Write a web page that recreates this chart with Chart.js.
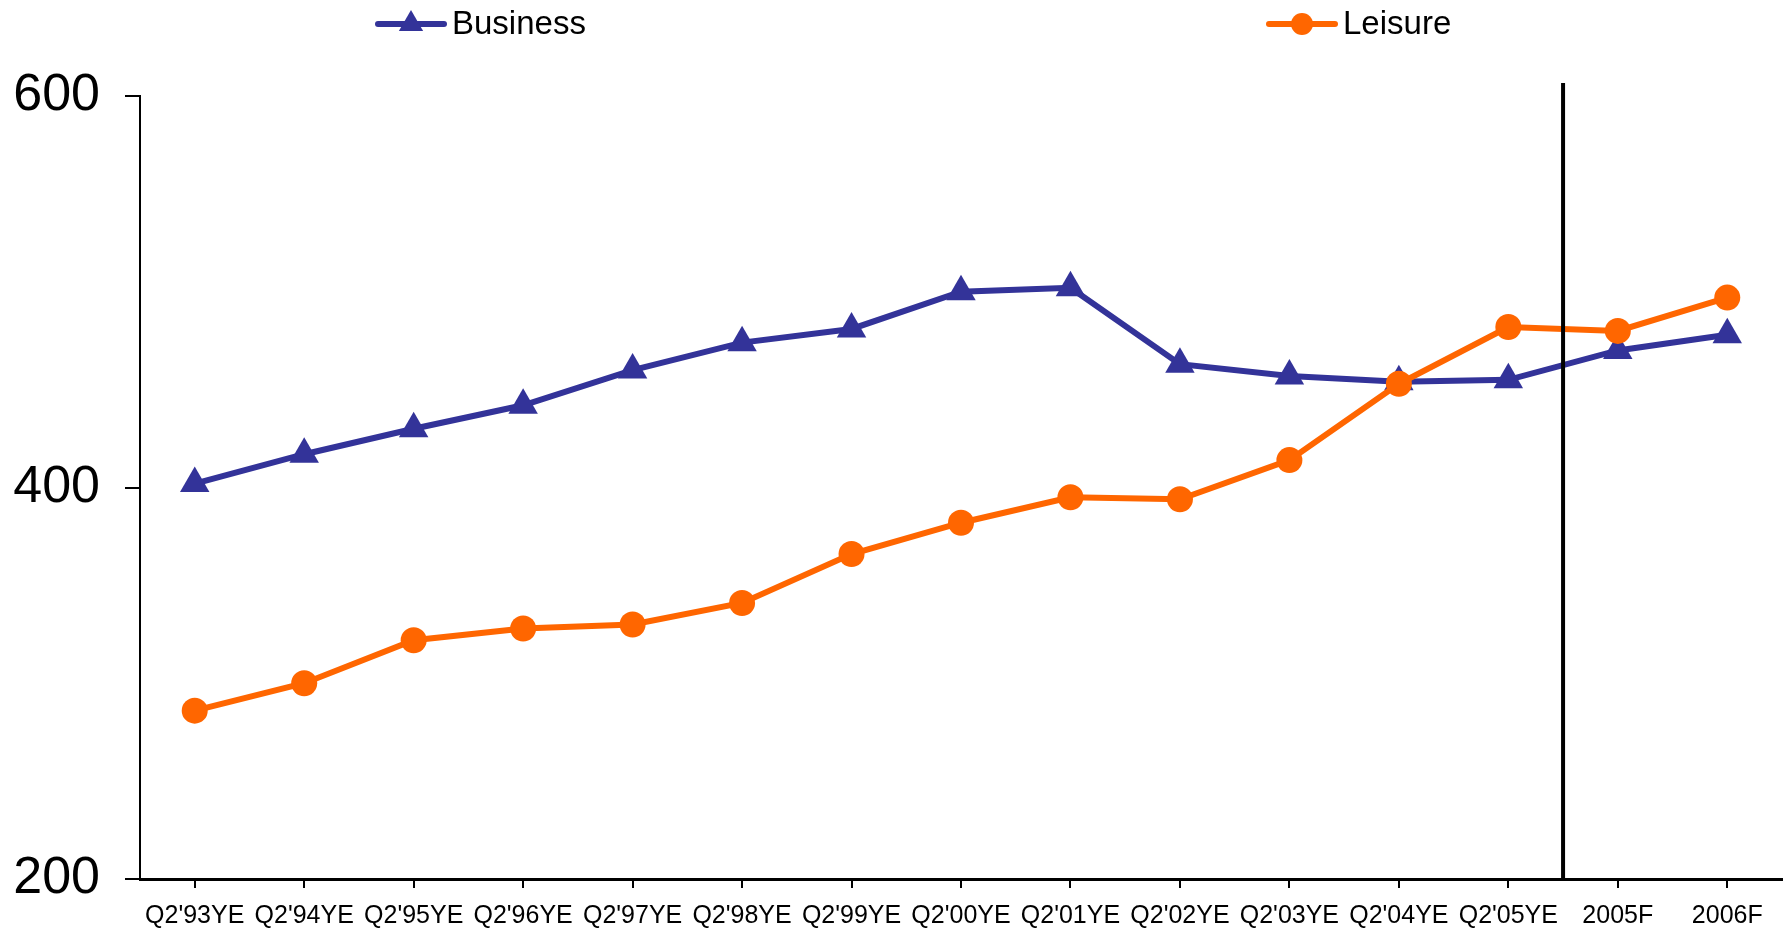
<!DOCTYPE html>
<html>
<head>
<meta charset="utf-8">
<script src="https://cdn.jsdelivr.net/npm/chart.js@4"></script>
<style>
	html, body { margin: 0; padding: 0; background: #fff; overflow: hidden; }
	canvas { display: block; }
</style>
</head>
<body>
<canvas id="chart" width="1783" height="930"></canvas>
<script>
// data
const categories = ["Q2'93YE", "Q2'94YE", "Q2'95YE", "Q2'96YE", "Q2'97YE", "Q2'98YE", "Q2'99YE",
	"Q2'00YE", "Q2'01YE", "Q2'02YE", "Q2'03YE", "Q2'04YE", "Q2'05YE", "2005F", "2006F"];
const business = [402, 417, 430, 442, 460, 474, 481, 500, 502, 463, 457, 454, 455, 470, 478];
const leisure = [286, 300, 322, 328, 330, 341, 366, 382, 395, 394, 414, 453, 482, 480, 497];
const yTicks = [200, 400, 600];
const forecastStart = 13; // first forecast category

const FONT = "'Liberation Sans', Arial, sans-serif";
const BLUE = "#333399";
const ORANGE = "#FF6600";

// vertical divider between actuals and forecast
const dividerPlugin = {
	id: "divider",
	afterDatasetsDraw(chart) {
		const x = chart.scales.x;
		const px = (x.getPixelForValue(forecastStart - 1) + x.getPixelForValue(forecastStart)) / 2;
		const ctx = chart.ctx;
		ctx.save();
		ctx.strokeStyle = "#000";
		ctx.lineWidth = 4;
		ctx.beginPath();
		ctx.moveTo(px, chart.chartArea.top - 13);
		ctx.lineTo(px, chart.chartArea.bottom);
		ctx.stroke();
		ctx.restore();
	},
};

// legend: line with marker, like the original
const legendPlugin = {
	id: "lineLegend",
	afterDraw(chart) {
		const ctx = chart.ctx;
		const items = [
			{ ds: chart.data.datasets[1], x: 378 },
			{ ds: chart.data.datasets[0], x: 1269 },
		];
		const y = 24;
		ctx.save();
		items.forEach((it) => {
			const ds = it.ds;
			ctx.strokeStyle = ds.borderColor;
			ctx.fillStyle = ds.borderColor;
			ctx.lineWidth = 6;
			ctx.lineCap = "round";
			ctx.beginPath();
			ctx.moveTo(it.x, y);
			ctx.lineTo(it.x + 66, y);
			ctx.stroke();
			Chart.helpers.drawPoint(ctx, {
				pointStyle: ds.pointStyle,
				radius: ds.pointStyle === "triangle" ? 14 : 11,
				borderWidth: 0,
			}, it.x + 33, y);
			ctx.fillStyle = "#000";
			ctx.font = "33px " + FONT;
			ctx.textBaseline = "middle";
			ctx.fillText(ds.label, it.x + 74, y + 1);
		});
		ctx.restore();
	},
};

new Chart(document.getElementById("chart"), {
	type: "line",
	data: {
		labels: categories,
		datasets: [
			{
				label: "Leisure",
				data: leisure,
				borderColor: ORANGE,
				backgroundColor: ORANGE,
				borderWidth: 6,
				pointStyle: "circle",
				pointRadius: 13,
				pointBorderWidth: 0,
				pointBackgroundColor: ORANGE,
				tension: 0,
				order: 0,
			},
			{
				label: "Business",
				data: business,
				borderColor: BLUE,
				backgroundColor: BLUE,
				borderWidth: 6,
				pointStyle: "triangle",
				pointRadius: 17,
				pointBorderWidth: 0,
				pointBackgroundColor: BLUE,
				tension: 0,
				order: 1,
			},
		],
	},
	options: {
		responsive: false,
		animation: false,
		layout: {
			autoPadding: false,
			padding: { top: 96, right: 1, left: 0, bottom: 0 },
		},
		plugins: {
			legend: { display: false },
			tooltip: { enabled: false },
		},
		scales: {
			x: {
				offset: true,
				grid: {
					drawOnChartArea: false,
					tickLength: 9,
					color: "#000",
					lineWidth: 2,
				},
				border: { color: "#000", width: 3 },
				ticks: {
					color: "#000",
					font: { family: FONT, size: 25, lineHeight: 2.24 },
					padding: 0,
					maxRotation: 0,
					autoSkip: false,
				},
				afterFit(scale) {
					scale.height = 51;
					scale.paddingLeft = 0;
					scale.paddingRight = 0;
				},
			},
			y: {
				min: 200,
				max: 600,
				afterBuildTicks(scale) {
					scale.ticks = yTicks.map((v) => ({ value: v }));
				},
				grid: {
					drawOnChartArea: false,
					tickLength: 15,
					color: "#000",
					lineWidth: 2,
				},
				border: { color: "#000", width: 2 },
				ticks: {
					color: "#000",
					font: { family: FONT, size: 52 },
					padding: 25,
				},
				afterFit(scale) {
					scale.width = 140;
					scale.paddingTop = 0;
					scale.paddingBottom = 0;
				},
			},
		},
	},
	plugins: [dividerPlugin, legendPlugin],
});
</script>
</body>
</html>
